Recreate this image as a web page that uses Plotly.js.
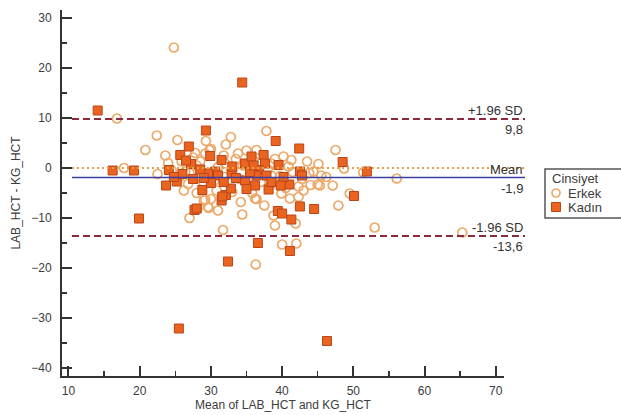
<!DOCTYPE html>
<html>
<head>
<meta charset="utf-8">
<script src="https://cdn.plot.ly/plotly-3.0.1.min.js"></script>
<style>html,body{margin:0;padding:0;background:#fff;}#chart{width:621px;height:415px;}</style>
</head>
<body>
<div id="chart"></div>
<script>
// Erkek (open circles): mean of LAB_HCT & KG_HCT, difference
const erkekX = [24.8,16.8,22.4,25.3,20.8,23.6,17.8,22.5,26.2,37.8,29.3,32.8,32.1,29.8,27.5,47.5,48.7,51.4,56.1,47.1,45.1,43.5,49.5,31.7,36.3,28.1,27.0,29.0,30.0,29.7,34.4,36.4,42.0,53.0,65.3,41.9,47.9,45.0,44.0,42.3,25.9,29.2,33.8,32.0,28.5,26.4,40.2,41.3,40.9,44.4,36.4,38.5,29.2,29.6,35.3,28.9,38.3,39.9,41.1,42.3,36.2,45.3,39.7,38.5,45.5,24.5,25.5,27.0,28.0,29.5,30.5,31.0,32.0,33.0,34.0,34.5,35.5,36.0,37.0,38.0,39.0,40.0,41.5,42.8,43.8,33.5,30.0,31.8,35.0,26.8,28.0,33.0,35.8,37.5,31.0,40.5,43.0,46.2,24.0,27.8,30.8,34.2,38.8,39.0,40.0];
const erkekY = [24.1,9.9,6.5,5.6,3.6,2.5,0.0,-1.2,-4.5,7.4,5.4,6.2,4.7,3.6,2.1,3.6,-0.1,-0.9,-2.1,-3.5,0.8,1.3,-5.1,-12.4,-19.3,-8.2,-10.0,-6.5,-6.2,-8.0,-9.3,-6.2,-15.1,-11.9,-12.9,-11.1,-7.5,-3.3,-3.4,-3.7,1.3,2.9,2.9,0.9,1.3,-0.7,2.3,1.6,0.3,-0.7,3.6,0.9,-6.3,-7.8,-3.5,-2.8,-3.5,-5.1,-6.1,-5.8,-6.1,-3.5,-1.6,-1.5,-1.5,-0.5,-2.0,-1.0,0.5,-1.0,-2.5,0.2,-1.8,-0.5,-2.2,0.5,-1.0,1.5,-2.8,-0.3,1.8,-2.5,-0.8,-2.2,-1.0,1.8,3.8,2.5,3.5,-3.2,-5.0,-4.8,-5.0,-7.5,-8.5,-4.0,-4.5,-1.8,1.0,3.0,-4.5,-6.8,-9.5,-11.5,-15.3];
// Kadın (filled squares)
const kadinX = [34.4,14.1,29.3,16.2,19.2,23.7,25.2,28.8,39.1,26.9,25.7,27.2,31.5,42.4,48.5,51.9,50.1,19.9,25.5,36.6,32.4,27.7,31.5,32.1,32.8,38.1,39.4,46.3,41.1,40.0,41.3,42.5,44.5,41.0,24.1,29.9,30.6,32.9,34.8,35.7,37.4,37.6,39.5,42.5,36.7,29.6,31.0,34.8,36.2,42.8,36.4,37.8,28.0,26.0,27.5,28.5,30.0,33.5,35.5,38.5,40.2,24.8,33.0,26.5,31.8,36.0,39.8,35.0,29.0,31.6];
const kadinY = [17.1,11.5,7.5,-0.5,-0.5,-3.5,-2.7,-4.4,5.4,4.3,2.6,0.8,1.6,3.9,1.2,-0.7,-5.6,-10.1,-32.1,-15.0,-18.7,-8.4,-6.5,-5.4,-4.1,-4.3,-8.6,-34.6,-16.6,-9.1,-10.3,-7.7,-8.2,-3.3,-0.4,2.4,-0.7,-1.1,0.9,2.3,2.6,0.9,0.6,-0.7,-0.4,-1.1,-1.5,-2.5,-3.5,-1.5,-1.5,-1.5,-8.1,-1.2,-2.2,-0.3,-3.0,-2.0,-0.8,-2.8,-1.8,-1.8,0.3,1.5,-2.8,0.5,-3.5,-4.2,-2.0,-5.7];

const seriesNames = ["Erkek", "Kadın"];
const legendTitle = "Cinsiyet";
const xTitle = "Mean of LAB_HCT and KG_HCT";
const yTitle = "LAB_HCT - KG_HCT";
const xTicks = [10,20,30,40,50,60,70];
const yTicks = [-40,-30,-20,-10,0,10,20,30];

// Bland-Altman reference lines
const meanDiff = -1.9;
const upperLoA = 9.8;
const lowerLoA = -13.6;
const zeroLine = 0;
const lineLabelsTop = ["+1.96 SD", "Mean", "-1.96 SD"];
const lineLabelsBottom = ["9,8", "-1,9", "-13,6"];

const font = "Liberation Sans, Arial, sans-serif";
const textColor = "#3c3c3c";
const circleColor = "#eca96a";
const squareFill = "#ea6420";
const squareLine = "#b9461a";

const traces = [
  {
    type: "scatter", mode: "markers", name: seriesNames[0],
    x: erkekX, y: erkekY,
    marker: {symbol: "circle-open", size: 9, color: circleColor, line: {width: 1.7, color: circleColor}}
  },
  {
    type: "scatter", mode: "markers", name: seriesNames[1],
    x: kadinX, y: kadinY,
    marker: {symbol: "square", size: 9, color: squareFill, line: {width: 1, color: squareLine}}
  }
];

// plot area in pixels: left 62, right 504, top 10, bottom 376
const px = v => (v - 62) / 442;
const py = v => (376 - v) / 366;

const lineX0 = px(72), lineX1 = px(525);
const shapes = [
  {type: "line", xref: "paper", yref: "y", x0: lineX0, x1: lineX1, y0: zeroLine, y1: zeroLine,
   line: {color: "#e3a24a", width: 2, dash: "2px,3px"}},
  {type: "line", xref: "paper", yref: "y", x0: lineX0, x1: lineX1, y0: upperLoA, y1: upperLoA,
   line: {color: "#8a2a3c", width: 2, dash: "7px,4px"}},
  {type: "line", xref: "paper", yref: "y", x0: lineX0, x1: lineX1, y0: lowerLoA, y1: lowerLoA,
   line: {color: "#8a2a3c", width: 2, dash: "7px,4px"}},
  {type: "line", xref: "paper", yref: "y", x0: lineX0, x1: lineX1, y0: meanDiff, y1: meanDiff,
   line: {color: "#3b3fa0", width: 1.6}},
  // legend box (clipped by the page edge as in the original)
  {type: "rect", xref: "paper", yref: "paper", x0: px(545), x1: px(660), y0: py(218), y1: py(169),
   line: {color: "#555", width: 1.5}, fillcolor: "#fff"},
  // legend symbols
  {type: "circle", xref: "paper", yref: "paper", xsizemode: "pixel", ysizemode: "pixel",
   xanchor: px(556), yanchor: py(193), x0: -4, x1: 4, y0: -4, y1: 4,
   line: {color: circleColor, width: 1.7}, fillcolor: "rgba(0,0,0,0)"},
  {type: "rect", xref: "paper", yref: "paper", xsizemode: "pixel", ysizemode: "pixel",
   xanchor: px(556), yanchor: py(207), x0: -4.5, x1: 4.5, y0: -4.5, y1: 4.5,
   line: {color: squareLine, width: 1}, fillcolor: squareFill}
];

const lineVals = [upperLoA, meanDiff, lowerLoA];
const annotations = [];
lineVals.forEach((v, i) => {
  annotations.push({xref: "paper", yref: "y", x: lineX1, y: v, xanchor: "right", yanchor: "bottom",
    yshift: -1, text: lineLabelsTop[i], showarrow: false, font: {family: font, size: 13, color: "#333"}});
  annotations.push({xref: "paper", yref: "y", x: lineX1, y: v, xanchor: "right", yanchor: "top",
    yshift: -1, text: lineLabelsBottom[i], showarrow: false, font: {family: font, size: 13, color: "#333"}});
});
// legend texts
annotations.push({xref: "paper", yref: "paper", x: px(550), y: py(179), xanchor: "left", yanchor: "middle",
  text: legendTitle, showarrow: false, font: {family: font, size: 13, color: textColor}});
annotations.push({xref: "paper", yref: "paper", x: px(566), y: py(193), xanchor: "left", yanchor: "middle",
  text: seriesNames[0], showarrow: false, font: {family: font, size: 13, color: textColor}});
annotations.push({xref: "paper", yref: "paper", x: px(566), y: py(207), xanchor: "left", yanchor: "middle",
  text: seriesNames[1], showarrow: false, font: {family: font, size: 13, color: textColor}});

const axisCommon = {
  showgrid: false, zeroline: false, showline: true, linecolor: "#333", linewidth: 2,
  ticks: "inside", ticklen: 10, tickwidth: 2, tickcolor: "#333",
  tickfont: {family: font, size: 12, color: textColor},
  minor: {dtick: 5, ticks: "inside", ticklen: 5, tickwidth: 1.5, tickcolor: "#333"}
};

const layout = {
  width: 621, height: 415,
  margin: {l: 62, r: 117, t: 10, b: 39, autoexpand: false},
  paper_bgcolor: "#fff", plot_bgcolor: "#fff",
  showlegend: false,
  xaxis: Object.assign({}, axisCommon, {
    range: [9.09, 71.16], tickmode: "array", tickvals: xTicks,
    title: {text: xTitle, font: {family: font, size: 12, color: textColor}, standoff: 1},
    ticklabelstandoff: 3
  }),
  yaxis: Object.assign({}, axisCommon, {
    range: [-41.6, 31.6], tickmode: "array", tickvals: yTicks,
    title: {text: yTitle, font: {family: font, size: 12, color: textColor}, standoff: 8},
    ticklabelstandoff: 6
  }),
  shapes: shapes,
  annotations: annotations
};

Plotly.newPlot("chart", traces, layout, {displayModeBar: false, staticPlot: true});
</script>
</body>
</html>
